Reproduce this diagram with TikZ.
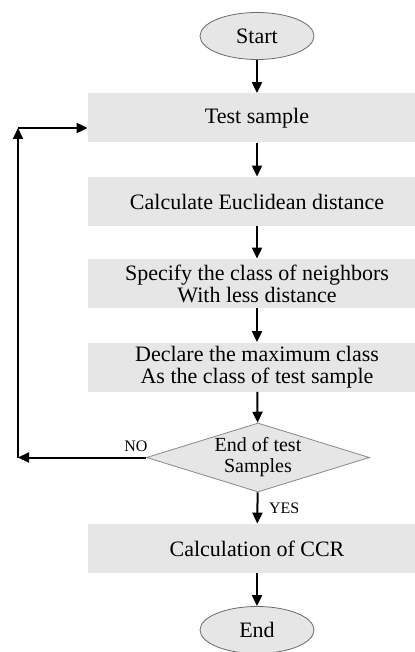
\documentclass[tikz,border=0pt]{standalone}
\usepackage{fontspec}
\setmainfont{Liberation Serif}
\usetikzlibrary{shapes.geometric,arrows.meta}
\definecolor{boxgray}{HTML}{E6E6E6}
\definecolor{edgegray}{HTML}{6A6A6A}
\begin{document}
\begin{tikzpicture}[x=0.5pt,y=-0.5pt,
  process/.style={fill=boxgray,minimum width=169pt,minimum height=24.5pt,
    align=center,inner sep=0pt,font=\fontsize{11}{11}\selectfont},
  terminal/.style={ellipse,draw=edgegray,fill=boxgray,minimum width=57pt,
    minimum height=23.5pt,inner sep=0pt,font=\fontsize{11}{11}\selectfont},
  decision/.style={diamond,draw=edgegray!80,fill=boxgray,aspect=3.2,
    minimum width=111.5pt,minimum height=34.5pt,inner sep=0pt,align=center,
    font=\fontsize{10}{10.5}\selectfont},
  arr/.style={-{Triangle[length=5.5pt,width=5pt]},line width=1pt},
  tag/.style={font=\fontsize{8}{9}\selectfont}]
\useasboundingbox (0,0) rectangle (415,652);
\node [terminal] (start) at (257,36)    {Start};
\node [process]  (test)  at (257,118)   {Test sample};
\node [process]  (dist)  at (257,201.5) {Calculate Euclidean distance};
\node [process]  (spec)  at (257,283.5) {Specify the class of neighbors\\With less distance};
\node [process]  (decl)  at (257,367)   {Declare the maximum class\\As the class of test sample};
\node [decision] (cond)  at (258,457.5) {\raisebox{-2pt}{End of test}\\\raisebox{-2pt}{Samples}};
\node [process]  (ccr)   at (257,548.5) {Calculation of CCR};
\node [terminal] (stop)  at (257,630)   {End};
\draw [arr] (start) -- (test);
\draw [arr] (test) -- (dist);
\draw [arr] (dist) -- (spec);
\draw [arr] (spec) -- (decl);
\draw [arr] (decl) -- (cond);
\draw [arr] (cond) -- (ccr) node [tag,midway,right,xshift=2pt] (yes) {YES};
\draw [arr] (ccr) -- (stop);
\coordinate (loopb) at (18,457.5);
\coordinate (loopt) at (18,128);
\node [tag] (no) at (136,446) {NO};
\draw [arr] (cond.west) -- (loopb);
\draw [arr] (loopb) -- (loopt);
\draw [arr] (loopt) -- (loopt -| test.west);
\end{tikzpicture}
\end{document}
